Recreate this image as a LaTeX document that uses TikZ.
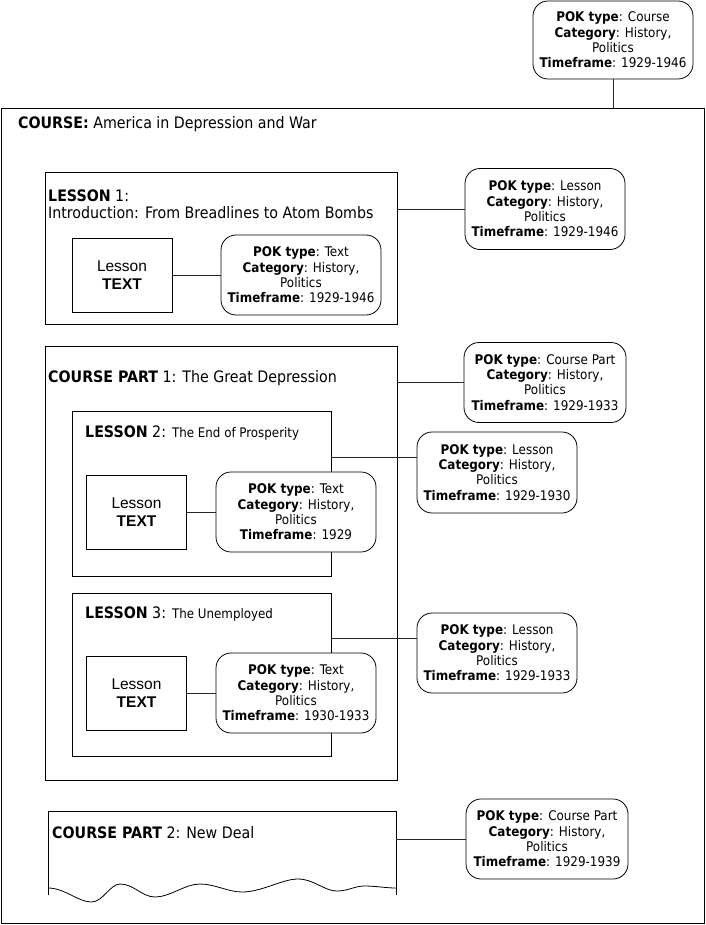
\documentclass[tikz,border=0pt]{standalone}
\usepackage{fontspec}
\setmainfont{DejaVu Sans Condensed}
\newfontfamily\arialf{Liberation Sans}
\begin{document}
\begin{tikzpicture}[x=1pt,y=-1pt,
  frame/.style={draw=black,line width=0.8pt,inner sep=0pt},
  pok/.style={draw=black,fill=white,line width=0.8pt,rounded corners=15pt,align=center,
    inner sep=0pt,minimum width=160pt,minimum height=80pt,font=\fontsize{13.3}{15.3}\selectfont},
  ltext/.style={draw=black,fill=white,line width=0.8pt,align=center,inner sep=0pt,
    minimum width=100pt,minimum height=74pt,font=\arialf\fontsize{15.5}{18}\selectfont},
  lbl/.style={anchor=west,inner sep=0pt,font=\fontsize{15.8}{17}\selectfont,align=left},
  conn/.style={draw=black!85,line width=0.8pt}]
\useasboundingbox (0,0) rectangle (705,925);

% outer course frame
\node[frame,minimum width=703pt,minimum height=815pt] (course) at (352.5,515.5) {};
\node[lbl] (coursetxt) at (18,124) {\textbf{COURSE:} America in Depression and War};
\node[pok,minimum height=78pt] (pc) at (613,40) {\textbf{POK type}: Course\\\textbf{Category}: History,\\Politics\\\textbf{Timeframe}: 1929-1946};
\draw[conn] (pc.south) -- (pc.south |- course.north);

% lesson 1
\node[frame,minimum width=352pt,minimum height=152pt] (l1) at (221,248) {};
\node[lbl] (l1txt) at (48,204) {\textbf{LESSON} 1:\\Introduction: From Breadlines to Atom Bombs};
\node[ltext] (t1) at (122,275) {Lesson\\\textbf{TEXT}};
\node[pok] (pt1) at (301,275) {\textbf{POK type}: Text\\\textbf{Category}: History,\\Politics\\\textbf{Timeframe}: 1929-1946};
\draw[conn] (t1.east) -- (pt1.west);
\node[pok,minimum height=81pt] (pl1) at (545,209) {\textbf{POK type}: Lesson\\\textbf{Category}: History,\\Politics\\\textbf{Timeframe}: 1929-1946};
\draw[conn] (pl1.west) -- (pl1.west -| l1.east);

% course part 1
\node[frame,minimum width=352pt,minimum height=434pt] (cp1) at (221,563) {};
\node[lbl] (cp1txt) at (48,378) {\textbf{COURSE PART} 1: The Great Depression};
\node[pok,minimum width=162pt] (pcp1) at (545,382.5) {\textbf{POK type}: Course Part\\\textbf{Category}: History,\\Politics\\\textbf{Timeframe}: 1929-1933};
\draw[conn] (pcp1.west) -- (pcp1.west -| cp1.east);

% lesson 2
\node[frame,minimum width=259pt,minimum height=165pt] (l2) at (201.5,493.5) {};
\node[lbl] (l2txt) at (85,433) {\textbf{LESSON} 2: {\fontsize{13.2}{14}\selectfont The End of Prosperity}};
\node[ltext] (t2) at (136.5,512) {Lesson\\\textbf{TEXT}};
\node[pok] (pt2) at (296,512) {\textbf{POK type}: Text\\\textbf{Category}: History,\\Politics\\\textbf{Timeframe}: 1929};
\draw[conn] (t2.east) -- (pt2.west);
\node[pok,minimum height=81pt] (pl2) at (497,472.5) {\textbf{POK type}: Lesson\\\textbf{Category}: History,\\Politics\\\textbf{Timeframe}: 1929-1930};
\coordinate (c2) at (331,457);
\draw[conn] (c2) -- (c2 -| pl2.west);

% lesson 3
\node[frame,minimum width=259pt,minimum height=163pt] (l3) at (201.5,674.5) {};
\node[lbl] (l3txt) at (85,614) {\textbf{LESSON} 3: {\fontsize{13.2}{14}\selectfont The Unemployed}};
\node[ltext] (t3) at (136.5,693) {Lesson\\\textbf{TEXT}};
\node[pok] (pt3) at (296,693) {\textbf{POK type}: Text\\\textbf{Category}: History,\\Politics\\\textbf{Timeframe}: 1930-1933};
\draw[conn] (t3.east) -- (pt3.west);
\node[pok] (pl3) at (497,653) {\textbf{POK type}: Lesson\\\textbf{Category}: History,\\Politics\\\textbf{Timeframe}: 1929-1933};
\coordinate (c3) at (331,638);
\draw[conn] (c3) -- (c3 -| pl3.west);

% course part 2 (torn bottom)
\coordinate (cp2nw) at (48,811);
\coordinate (cp2ne) at (396,811);
\draw[line width=0.8pt] (48,895) -- (cp2nw) -- (cp2ne) -- (396,895);
\draw[line width=0.8pt] (48,888) .. controls (65,888) and (78,902) .. (91.5,902)
  .. controls (103,902) and (110,884) .. (120,884)
  .. controls (134,884) and (142,897) .. (155,897)
  .. controls (170,897) and (185,884) .. (200,884)
  .. controls (215,884) and (228,892) .. (242,892)
  .. controls (262,892) and (282,879) .. (298,879)
  .. controls (314,879) and (324,891) .. (337,891)
  .. controls (348,891) and (355,886) .. (364,886)
  .. controls (376,886) and (386,888) .. (396,888);
\node[lbl] (cp2txt) at (52,833) {\textbf{COURSE PART} 2: New Deal};
\node[pok,minimum width=162pt] (pcp2) at (547,839) {\textbf{POK type}: Course Part\\\textbf{Category}: History,\\Politics\\\textbf{Timeframe}: 1929-1939};
\draw[conn] (pcp2.west) -- (pcp2.west -| cp2ne);
\end{tikzpicture}
\end{document}
